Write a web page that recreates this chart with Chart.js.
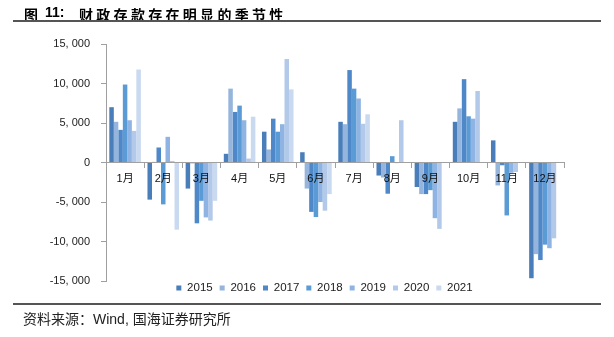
<!DOCTYPE html>
<html><head><meta charset="utf-8">
<script src="https://cdn.jsdelivr.net/npm/chart.js@4/dist/chart.umd.min.js"></script>
<style>
html,body{margin:0;padding:0;background:#fff;}
#wrap{position:relative;width:614px;height:337px;overflow:hidden;background:#fff;}
canvas{position:absolute;left:0;top:0;}
.t{position:absolute;white-space:nowrap;line-height:14px;}
.rule{position:absolute;left:13px;width:588px;height:2px;background:#555;}
</style></head><body>
<div id="wrap">
<canvas id="c" width="614" height="337"></canvas>
<div class="t" style="left:24px;top:4px;font:bold 14px 'Noto Sans CJK SC';">图</div>
<div class="t" style="left:45px;top:4px;font:bold 14px 'Liberation Sans';">11:</div>
<div class="t" style="left:79px;top:4px;font:bold 14px 'Noto Sans CJK SC';letter-spacing:3.3px;">财政存款存在明显的季节性</div>
<div class="rule" style="top:20px;"></div>
<div class="rule" style="top:303px;"></div>
<div class="t" style="left:23px;top:308px;font:14px 'Liberation Sans','Noto Sans CJK SC';color:#222;">资料来源：Wind, 国海证券研究所</div>
</div>
<script>
const months = ['1月','2月','3月','4月','5月','6月','7月','8月','9月','10月','11月','12月'];
const years = ['2015','2016','2017','2018','2019','2020','2021'];
const y2015 = [7000, -4700, -3300, 1100, 3900, 1300, 5150, -1650, -3100, 5150, 2800, -14650];
const y2016 = [5150, 80, -120, 9350, 1650, -3300, 4850, -1900, -4000, 6850, -2900, -11600];
const y2017 = [4130, 1900, -7700, 6400, 5550, -6250, 11700, -3950, -4000, 10550, -350, -12350];
const y2018 = [9870, -5300, -4850, 7200, 3900, -6900, 9350, 800, -3500, 5850, -6700, -10400];
const y2019 = [5350, 3250, -6950, 5350, 4850, -5000, 8100, -80, -7050, 5550, -1300, -10850];
const y2020 = [4000, 200, -7350, 500, 13100, -6100, 4900, 5350, -8400, 9050, -1200, -9600];
const y2021 = [11770, -8500, -4850, 5800, 9250, -4000, 6100, null, null, null, null, null];
const yTicks = [-15000, -10000, -5000, 0, 5000, 10000, 15000];
const colors = ['#4a7ebb', '#95b5dc', '#4f88c8', '#5b9bd5', '#8fb4e3', '#b3c9e9', '#c8d9f0'];
const series = [y2015, y2016, y2017, y2018, y2019, y2020, y2021];

function fmt(v){
  if (v === 0) return '0';
  const s = Math.abs(v).toLocaleString('en-US').replace(/,/g, ', ');
  return (v < 0 ? '-' : '') + s;
}

const legendNudge = {
  id: 'legendNudge',
  afterLayout(chart){
    const l = chart.legend;
    if (l) { l.top -= 5.75; l.bottom -= 5.75; l.left -= 10.5; l.right -= 10.5; }
  }
};

const latin = "'Liberation Sans', Arial, 'Noto Sans CJK SC', sans-serif";

new Chart(document.getElementById('c'), {
  type: 'bar',
  data: {
    labels: months,
    datasets: series.map((d, i) => ({
      label: years[i],
      data: d,
      backgroundColor: colors[i],
      borderWidth: 0,
      barPercentage: 1.0,
      categoryPercentage: 0.827
    }))
  },
  options: {
    responsive: false,
    animation: false,
    devicePixelRatio: 1,
    layout: { padding: { left: 0, right: 50, top: 44, bottom: 27.5 } },
    plugins: {
      legend: {
        position: 'bottom',
        fullSize: false,
        labels: { boxWidth: 5, boxHeight: 5, padding: 7, color: '#222', font: { size: 11.5, family: latin } }
      },
      tooltip: { enabled: false }
    },
    scales: {
      x: {
        position: { y: 0 },
        grid: { drawOnChartArea: false, drawTicks: true, tickLength: 5, color: '#a0a0a0', offset: true, z: 1 },
        border: { color: '#a0a0a0', width: 1, z: 1 },
        ticks: { z: 1, padding: 5, color: '#111', font: { size: 11, family: latin }, maxRotation: 0, autoSkip: false }
      },
      y: {
        min: yTicks[0],
        max: yTicks[yTicks.length - 1],
        afterBuildTicks(s){ s.ticks = yTicks.map(v => ({ value: v })); },
        afterFit(s){ s.width = 106; },
        ticks: { padding: 11, color: '#222', font: { size: 11, family: latin }, callback: fmt },
        grid: { drawOnChartArea: false, drawTicks: true, tickLength: 5, color: '#a0a0a0' },
        border: { color: '#a0a0a0', width: 1 }
      }
    }
  },
  plugins: [legendNudge]
});
</script>
</body></html>
